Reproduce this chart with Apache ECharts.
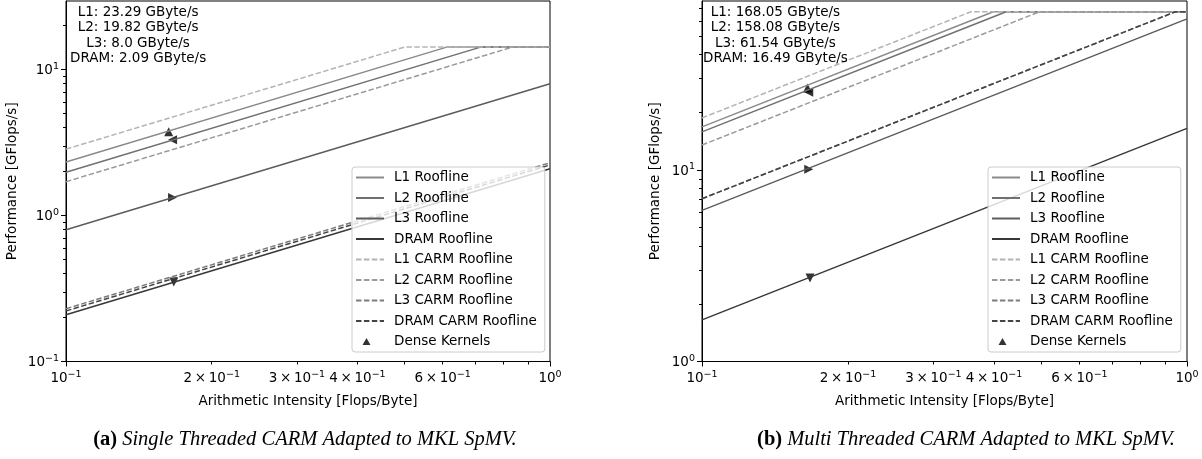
<!DOCTYPE html>
<html>
<head>
<meta charset="utf-8">
<script src="https://cdn.jsdelivr.net/npm/echarts@6/dist/echarts.min.js"></script>
<style>
html,body{margin:0;padding:0;background:#fff;}
#chart{width:1202px;height:459px;}
</style>
</head>
<body>
<div id="chart"></div>
<script>
// ---------- data ----------
const levels = ['L1', 'L2', 'L3', 'DRAM'];
// (a) single threaded
const stBW = [23.29, 19.82, 8.0, 2.09];          // GByte/s
const stCarmBW = [28.5, 17.05, 2.3, 2.22];
const stPeak = 14.3;                              // GFlops/s
const stDenseAI = [0.163, 0.166, 0.166, 0.167];
const stDensePerf = [3.75, 3.3, 1.33, 0.35];
// (b) multi threaded
const mtBW = [168.05, 158.08, 61.54, 16.49];
const mtCarmBW = [187, 135, 70.8, 70.8];
const mtPeak = 67;
const mtDenseAI = [0.165, 0.166, 0.166, 0.167];
const mtDensePerf = [26.8, 25.5, 10.1, 2.73];
const denseDir = ['up', 'left', 'right', 'down'];

// axis ticks
const xLabelVals = [0.1, 0.2, 0.3, 0.4, 0.6, 1];
const xMajorTicks = [0.1, 1];
const xMinorTicks = [0.2, 0.3, 0.4, 0.5, 0.6, 0.7, 0.8, 0.9];
const stYLabels = [0.1, 1, 10];
const stYMinor = [0.2, 0.3, 0.4, 0.5, 0.6, 0.7, 0.8, 0.9, 2, 3, 4, 5, 6, 7, 8, 9, 20];
const mtYLabels = [1, 10];
const mtYMinor = [2, 3, 4, 5, 6, 7, 8, 9, 20, 30, 40, 50, 60, 70];

const stYRange = [0.1, 29.5];
const mtYRange = [1, 76.3];

// ---------- styles ----------
const roofColors = ['#8a8a8a', '#707070', '#5c5c5c', '#383838'];
const carmColors = ['#b4b4b4', '#9a9a9a', '#7c7c7c', '#444444'];
const FONT = 'DejaVu Sans';
const FS = 13.5;

function pyStr(v) { return Number.isInteger(v) ? v.toFixed(1) : String(v); }
function expLabel(v) {
  const e = Math.floor(Math.log10(v) + 1e-9);
  const m = Math.round(v / Math.pow(10, e));
  const es = String(e).replace('-', '\u2212');
  if (m === 1) return '{b|10}{s|' + es + '}';
  return '{b|' + m + '\u2009\u00d7\u200910}{s|' + es + '}';
}
const richLab = {
  b: {fontSize: FS, fontFamily: FONT, color: '#000', padding: [3, 0, 0, 0], lineHeight: 16, verticalAlign: 'bottom'},
  s: {fontSize: 9.5, fontFamily: FONT, color: '#000', lineHeight: 11, verticalAlign: 'top'}
};

function roof(bw, peak) {
  const knee = peak / bw;
  if (knee < 1) return [[0.1, 0.1 * bw], [knee, peak], [1, peak]];
  return [[0.1, 0.1 * bw], [1, bw]];
}

const grids = [
  {left: 66, right: 652, top: 1, bottom: 97.5, show: true, borderColor: '#000', borderWidth: 1, backgroundColor: 'transparent'},
  {left: 702, right: 15, top: 1, bottom: 97.5, show: true, borderColor: '#000', borderWidth: 1, backgroundColor: 'transparent'}
];

function xAxes(gi) {
  return [
    {type: 'log', logBase: 10, gridIndex: gi, min: 0.1, max: 1, position: 'bottom',
     name: 'Arithmetic Intensity [Flops/Byte]', nameLocation: 'middle', nameGap: 33,
     nameTextStyle: {fontSize: FS, fontFamily: FONT, color: '#000'},
     axisLine: {show: true, lineStyle: {color: '#000', width: 1}},
     axisTick: {show: true, length: 5, lineStyle: {color: '#000'}, customValues: xMajorTicks},
     axisLabel: {show: true, margin: 8, customValues: xLabelVals, formatter: expLabel, rich: richLab},
     splitLine: {show: false}, minorTick: {show: false}},
    {type: 'log', logBase: 10, gridIndex: gi, min: 0.1, max: 1, position: 'bottom',
     axisLine: {show: false},
     axisTick: {show: true, length: 3, lineStyle: {color: '#000'}, customValues: xMinorTicks},
     axisLabel: {show: false}, splitLine: {show: false}}
  ];
}
function yAxes(gi, range, labs, minor, gap) {
  return [
    {type: 'log', logBase: 10, gridIndex: gi, min: range[0], max: range[1], position: 'left',
     name: 'Performance [GFlops/s]', nameLocation: 'middle', nameGap: gap, nameRotate: 90,
     nameTextStyle: {fontSize: FS, fontFamily: FONT, color: '#000'},
     axisLine: {show: true, lineStyle: {color: '#000', width: 1}},
     axisTick: {show: true, length: 5, lineStyle: {color: '#000'}, customValues: labs},
     axisLabel: {show: true, margin: 7, customValues: labs, formatter: expLabel, rich: richLab},
     splitLine: {show: false}},
    {type: 'log', logBase: 10, gridIndex: gi, min: range[0], max: range[1], position: 'left',
     axisLine: {show: false},
     axisTick: {show: true, length: 3, lineStyle: {color: '#000'}, customValues: minor},
     axisLabel: {show: false}, splitLine: {show: false}}
  ];
}

function chartSeries(gi, bw, carm, peak, dAI, dPerf) {
  const out = [];
  levels.forEach((lv, i) => {
    out.push({type: 'line', name: lv + ' Roofline', xAxisIndex: gi * 2, yAxisIndex: gi * 2,
      data: roof(bw[i], peak), symbol: 'none', animation: false,
      lineStyle: {color: roofColors[i], width: 1.5}, itemStyle: {color: roofColors[i]}});
  });
  levels.forEach((lv, i) => {
    out.push({type: 'line', name: lv + ' CARM Roofline', xAxisIndex: gi * 2, yAxisIndex: gi * 2,
      data: roof(carm[i], peak), symbol: 'none', animation: false,
      lineStyle: {color: carmColors[i], width: 1.5, type: [5.5, 2.4]}, itemStyle: {color: carmColors[i]}});
  });
  const rot = {up: 0, left: 90, right: -90, down: 180};
  out.push({type: 'scatter', name: 'Dense Kernels', xAxisIndex: gi * 2, yAxisIndex: gi * 2,
    symbol: 'triangle', symbolSize: 9, animation: false, itemStyle: {color: '#000'},
    data: dAI.map((a, i) => ({value: [a, dPerf[i]], symbolRotate: rot[denseDir[i]]}))});
  return out;
}

const lineNames = [];
levels.forEach(l => lineNames.push(l + ' Roofline'));
levels.forEach(l => lineNames.push(l + ' CARM Roofline'));
const legendData = lineNames.map(n => ({name: n, itemStyle: {opacity: 0}}))
  .concat([{name: 'Dense Kernels', itemStyle: {color: '#000'},
    icon: 'path://M0,0L0.01,0L0.01,0.01ZM28,8L27.99,8L27.99,7.99ZM6.5,7.5L10.5,0.5L14.5,7.5Z'}]);

function legend(left) {
  return {left: left, top: 167, orient: 'vertical', data: legendData,
    itemWidth: 28, itemHeight: 8, itemGap: 6.5,
    padding: [3.5, 8, 3.5, 3], backgroundColor: 'rgba(255,255,255,0.8)',
    borderColor: '#cccccc', borderWidth: 1, borderRadius: 3,
    textStyle: {fontSize: FS, fontFamily: FONT, color: '#000', lineHeight: 14, padding: [0, 0, 0, 5]},
    selectedMode: false};
}

function bwText(bw) {
  return levels.map((l, i) => l + ': ' + pyStr(bw[i]) + ' GByte/s').join('\n');
}

const capRich = {
  b: {fontFamily: 'Liberation Serif', fontWeight: 'bold', fontSize: 20.5, color: '#000'},
  i: {fontFamily: 'Liberation Serif', fontStyle: 'italic', fontWeight: 'normal', fontSize: 20.5, color: '#000'}
};

const option = {
  backgroundColor: '#fff',
  animation: false,
  grid: grids,
  xAxis: xAxes(0).concat(xAxes(1)),
  yAxis: yAxes(0, stYRange, stYLabels, stYMinor, 47).concat(yAxes(1, mtYRange, mtYLabels, mtYMinor, 40)),
  legend: [legend(352), legend(988)],
  series: chartSeries(0, stBW, stCarmBW, stPeak, stDenseAI, stDensePerf)
    .concat(chartSeries(1, mtBW, mtCarmBW, mtPeak, mtDenseAI, mtDensePerf)),
  title: [
    {text: '{b|(a)} {i|Single Threaded CARM Adapted to MKL SpMV.}', left: 300, top: 424, textAlign: 'center',
     textStyle: {fontWeight: 'normal', rich: capRich}},
    {text: '{b|(b)} {i|Multi Threaded CARM Adapted to MKL SpMV.}', left: 961, top: 424, textAlign: 'center',
     textStyle: {fontWeight: 'normal', rich: capRich}}
  ],
  graphic: [
    {type: 'text', left: 70, top: 4.5, z: 100,
     style: {text: bwText(stBW), textAlign: 'center', fontSize: FS, fontFamily: FONT, fill: '#000', lineHeight: 15.5}},
    {type: 'text', left: 703, top: 4.5, z: 100,
     style: {text: bwText(mtBW), textAlign: 'center', fontSize: FS, fontFamily: FONT, fill: '#000', lineHeight: 15.5}}
  ]
};

const chart = echarts.init(document.getElementById('chart'), null, {renderer: 'canvas'});
chart.setOption(option);
</script>
</body>
</html>
